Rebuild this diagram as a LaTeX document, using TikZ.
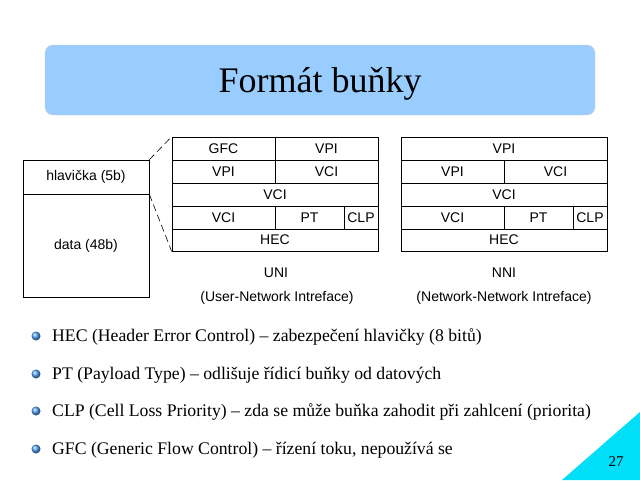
\documentclass[tikz,border=0pt]{standalone}
\usepackage{fontspec}
\setmainfont{Liberation Serif}
\setsansfont{Liberation Sans}
\definecolor{titlefill}{RGB}{153,204,255}
\definecolor{corner}{RGB}{0,222,248}
\definecolor{bulletc}{RGB}{80,160,240}
\tikzset{
  cellbox/.style={draw=black, line width=0.7pt, inner sep=0pt, font=\sffamily\fontsize{14}{16}\selectfont},
  plain/.style={inner sep=0pt, font=\sffamily\fontsize{14}{16}\selectfont},
  bul/.style={circle, inner sep=0pt, minimum size=9pt, shading=ball, ball color=bulletc},
  btext/.style={anchor=west, inner sep=0pt, font=\fontsize{17.7}{20}\selectfont},
  conn/.style={line width=0.6pt, dash pattern=on 7pt off 4pt}
}
\newcommand{\cellnode}[6]{%
  \node[cellbox, minimum width={(#4-#2)*1pt}, minimum height={(#5-#3)*1pt}] (#1) at ({(#2+#4)/2},{(#3+#5)/2}) {#6};}
\begin{document}
\begin{tikzpicture}[x=1pt,y=-1pt]
\useasboundingbox (0,0) rectangle (640,480);
% title
\node[draw=gray!35, fill=titlefill, rounded corners=8pt, minimum width=550pt, minimum height=70pt, inner sep=0pt] (titlebox) at (320,80) {};
\node[inner sep=0pt, font=\fontsize{36}{40}\selectfont] (title) at (320,84) {Formát buňky};
% corner triangle
\fill[corner] (562,480) -- (640,412) -- (640,480) -- cycle;
\node[font=\fontsize{15}{17}\selectfont, inner sep=0pt] (page) at (616,462) {27};
% left cell
\cellnode{hdr}{23}{160}{149}{194}{hlavička (5b)}
\cellnode{data}{23}{194}{149}{297}{data (48b)}
% UNI table
\cellnode{ua}{172}{137}{275}{160}{GFC}
\cellnode{ub}{275}{137}{378}{160}{VPI}
\cellnode{uc}{172}{160}{275}{183}{VPI}
\cellnode{ud}{275}{160}{378}{183}{VCI}
\cellnode{ue}{172}{183}{378}{206}{VCI}
\cellnode{uf}{172}{206}{275}{229}{VCI}
\cellnode{ug}{275}{206}{344}{229}{PT}
\cellnode{uh}{344}{206}{378}{229}{CLP}
\cellnode{ui}{172}{229}{378}{251}{HEC}
\node[plain] (uni) at (276,273) {UNI};
\node[plain] (unil) at (277,298) {(User-Network Intreface)};
% NNI table
\cellnode{na}{401}{137}{607}{160}{VPI}
\cellnode{nc}{401}{160}{504}{183}{VPI}
\cellnode{nd}{504}{160}{607}{183}{VCI}
\cellnode{ne}{401}{183}{607}{206}{VCI}
\cellnode{nf}{401}{206}{504}{229}{VCI}
\cellnode{ng}{504}{206}{573}{229}{PT}
\cellnode{nh}{573}{206}{607}{229}{CLP}
\cellnode{ni}{401}{229}{607}{251}{HEC}
\node[plain] (nni) at (504,273) {NNI};
\node[plain] (nnil) at (504,298) {(Network-Network Intreface)};
% connectors
\draw[conn] (hdr.north east) -- (ua.north west);
\draw[conn] (hdr.south east) -- (ui.south west);
% bullets
\node[bul] (b1) at (36,336) {};
\node[btext] (t1) at (52,337) {HEC (Header Error Control) – zabezpečení hlavičky (8 bitů)};
\node[bul] (b2) at (36,374) {};
\node[btext] (t2) at (52,375) {PT (Payload Type) – odlišuje řídicí buňky od datových};
\node[bul] (b3) at (36,411) {};
\node[btext] (t3) at (52,412) {CLP (Cell Loss Priority) – zda se může buňka zahodit při zahlcení (priorita)};
\node[bul] (b4) at (36,449) {};
\node[btext] (t4) at (52,450) {GFC (Generic Flow Control) – řízení toku, nepoužívá se};
\end{tikzpicture}
\end{document}
